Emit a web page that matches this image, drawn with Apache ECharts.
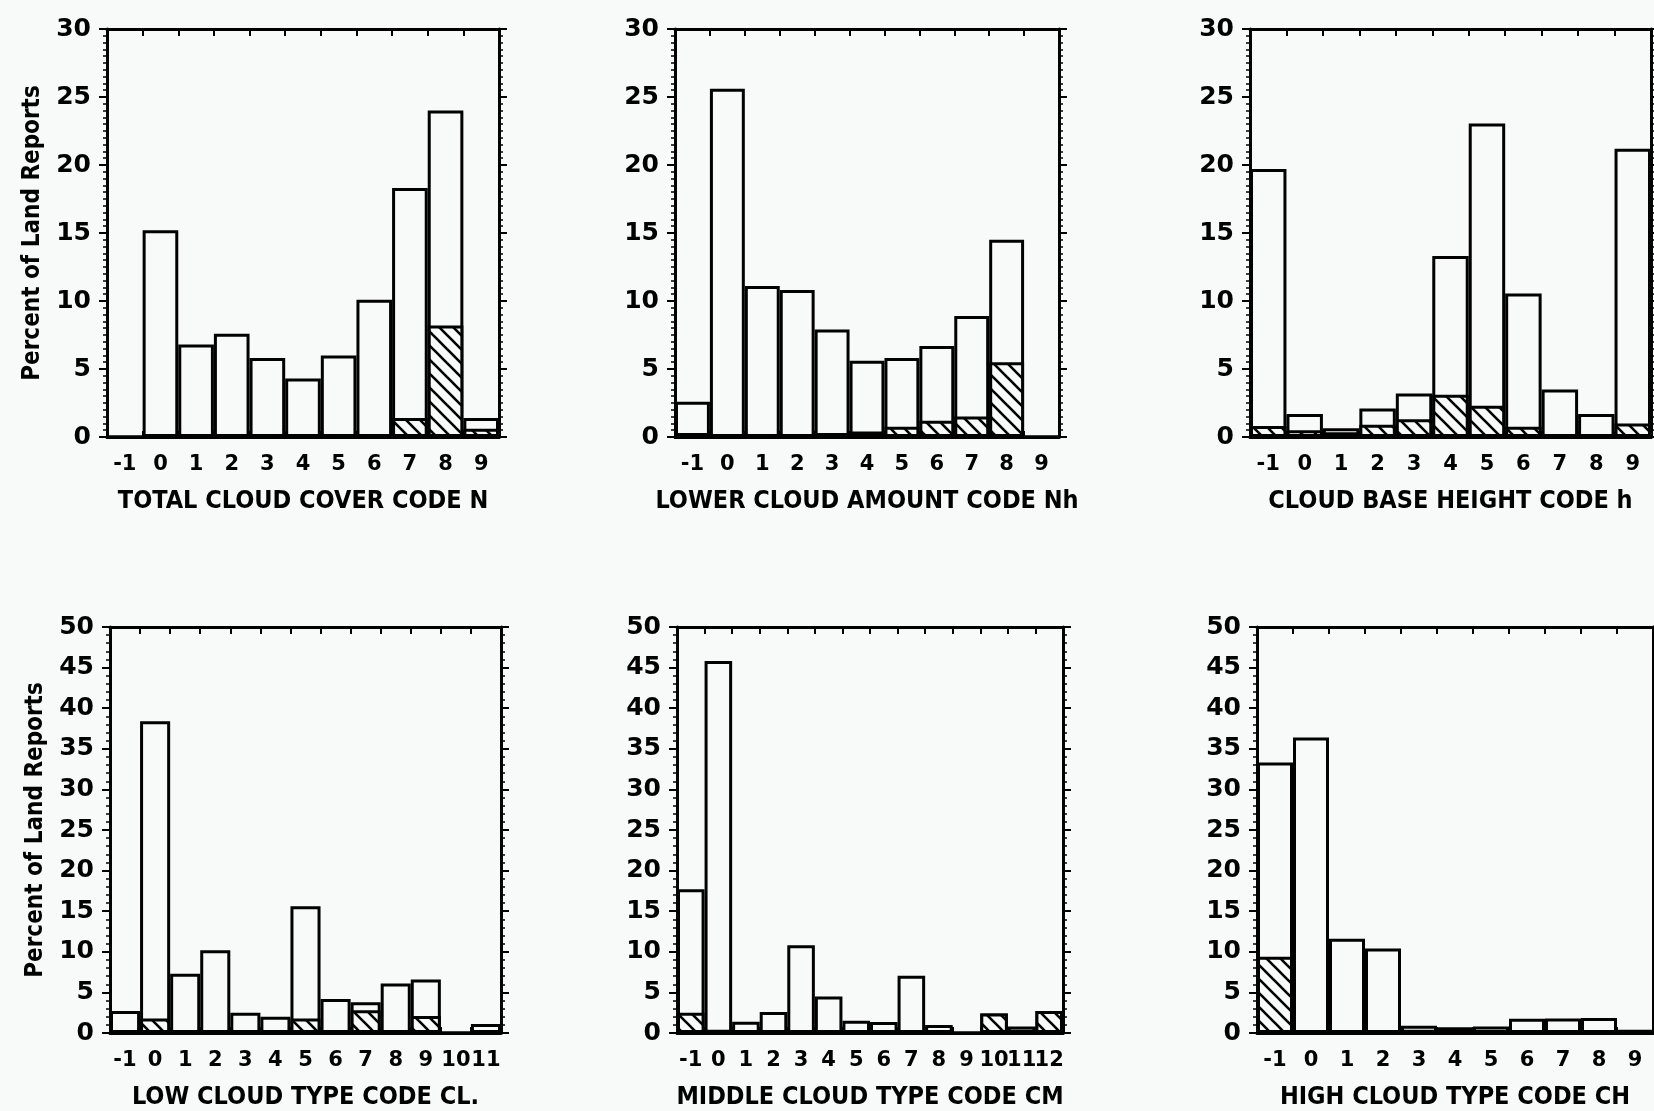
<!DOCTYPE html>
<html>
<head>
<meta charset="utf-8">
<title>Cloud code histograms</title>
<script src="https://cdn.jsdelivr.net/npm/echarts@6/dist/echarts.min.js"></script>
<style>
    html, body { margin: 0; padding: 0; background: #f8f9f9; }
    #chart { width: 1654px; height: 1111px; }
</style>
</head>
<body>
<div id="chart"></div>
<script>
    // categories (code values) for each panel
    var codesN  = ['-1','0','1','2','3','4','5','6','7','8','9'];
    var codesNh = ['-1','0','1','2','3','4','5','6','7','8','9'];
    var codesH  = ['-1','0','1','2','3','4','5','6','7','8','9'];
    var codesCL = ['-1','0','1','2','3','4','5','6','7','8','9','10','11'];
    var codesCM = ['-1','0','1','2','3','4','5','6','7','8','9','10','11','12'];
    var codesCH = ['-1','0','1','2','3','4','5','6','7','8','9'];

    // percent of land reports (white bars = all, hatched = subset)
    var totalN  = [0, 15.2, 6.8, 7.6, 5.8, 4.3, 6.0, 10.1, 18.3, 24.0, 1.4];
    var hatchN  = [0, 0, 0, 0, 0, 0, 0, 0, 1.4, 8.2, 0.6];

    var totalNh = [2.6, 25.6, 11.1, 10.8, 7.9, 5.6, 5.8, 6.7, 8.9, 14.5, 0];
    var hatchNh = [0.3, 0, 0, 0.15, 0.3, 0.4, 0.75, 1.2, 1.5, 5.5, 0];

    var totalH  = [19.7, 1.7, 0.65, 2.1, 3.2, 13.3, 23.05, 10.55, 3.5, 1.7, 21.2];
    var hatchH  = [0.8, 0.5, 0.35, 0.9, 1.3, 3.1, 2.3, 0.75, 0, 0, 1.0];

    var totalCL = [2.7, 38.4, 7.3, 10.2, 2.5, 2.0, 15.6, 4.2, 3.8, 6.1, 6.6, 0, 1.1];
    var hatchCL = [0, 1.8, 0, 0, 0, 0, 1.8, 0, 2.8, 0, 2.1, 0, 0];

    var totalCM = [17.7, 45.8, 1.4, 2.6, 10.8, 4.5, 1.5, 1.35, 7.05, 1.0, 0, 2.4, 0.8, 2.7];
    var hatchCM = [2.5, 0.4, 0, 0, 0, 0, 0, 0, 0, 0, 0, 2.4, 0.4, 2.7];

    var totalCH = [33.3, 36.4, 11.6, 10.4, 0.9, 0.7, 0.8, 1.75, 1.8, 1.85, 0.4];
    var hatchCH = [9.4, 0.3, 0, 0, 0.4, 0, 0.3, 0, 0.2, 0, 0];

    var yTitle = 'Percent of Land Reports';

    var BG = '#f8f9f9';
    var numFont = 'DejaVu Sans';
    var txtFont = '"DejaVu Sans Condensed", "DejaVu Sans", sans-serif';

    // diagonal hatch fill
    function hatchPattern() {
        var s = 14;
        var c = document.createElement('canvas');
        c.width = s; c.height = s;
        var ctx = c.getContext('2d');
        ctx.fillStyle = BG;
        ctx.fillRect(0, 0, s, s);
        ctx.strokeStyle = '#000';
        ctx.lineWidth = 2.6;
        [-s, 0, s].forEach(function (k) {
            ctx.beginPath();
            ctx.moveTo(-2, -2 + k);
            ctx.lineTo(s + 2, s + 2 + k);
            ctx.stroke();
        });
        return { image: c, repeat: 'repeat' };
    }
    var hatchFill = hatchPattern();

    var panels = [
        { cats: codesN,  total: totalN,  hatch: hatchN,  max: 30, name: 'TOTAL CLOUD COVER CODE N',  yname: yTitle, grid: { left: 107,  top: 29,  width: 392, height: 408 } },
        { cats: codesNh, total: totalNh, hatch: hatchNh, max: 30, name: 'LOWER CLOUD AMOUNT CODE Nh', yname: '',     grid: { left: 675,  top: 29,  width: 384, height: 408 } },
        { cats: codesH,  total: totalH,  hatch: hatchH,  max: 30, name: 'CLOUD BASE HEIGHT CODE h',  yname: '',     grid: { left: 1250, top: 29,  width: 401, height: 408 } },
        { cats: codesCL, total: totalCL, hatch: hatchCL, max: 50, name: 'LOW CLOUD TYPE CODE CL.',   yname: yTitle, grid: { left: 110,  top: 627, width: 391, height: 409 } },
        { cats: codesCM, total: totalCM, hatch: hatchCM, max: 50, name: 'MIDDLE CLOUD TYPE CODE CM', yname: '',     grid: { left: 677,  top: 627, width: 386, height: 409 } },
        { cats: codesCH, total: totalCH, hatch: hatchCH, max: 50, name: 'HIGH CLOUD TYPE CODE CH',   yname: '',     grid: { left: 1257, top: 627, width: 396, height: 409 } }
    ];

    var axisLine = { show: true, onZero: false, lineStyle: { color: '#000', width: 3 } };

    var option = {
        backgroundColor: BG,
        animation: false,
        grid: [],
        xAxis: [],
        yAxis: [],
        series: []
    };

    panels.forEach(function (p, i) {
        option.grid.push(p.grid);

        // bottom axis with code labels
        option.xAxis.push({
            type: 'category',
            gridIndex: i,
            position: 'bottom',
            data: p.cats,
            axisLine: axisLine,
            axisTick: { show: true, inside: true, length: 6, lineStyle: { color: '#000', width: 2 } },
            axisLabel: { color: '#000', fontSize: 21, fontWeight: 'bold', fontFamily: numFont, margin: 17, interval: 0 },
            name: p.name,
            nameLocation: 'middle',
            nameGap: 52,
            nameTextStyle: { color: '#000', fontSize: 25, fontWeight: 'bold', fontFamily: txtFont }
        });
        // top frame with ticks
        option.xAxis.push({
            type: 'category',
            gridIndex: i,
            position: 'top',
            data: p.cats,
            axisLine: axisLine,
            axisTick: { show: true, inside: true, length: 7, lineStyle: { color: '#000', width: 2 } },
            axisLabel: { show: false }
        });

        option.yAxis.push({
            type: 'value',
            gridIndex: i,
            position: 'left',
            min: 0,
            max: p.max,
            interval: 5,
            axisLine: axisLine,
            axisTick: { show: true, length: 8, lineStyle: { color: '#000', width: 2 } },
            minorTick: { show: true, splitNumber: p.max === 30 ? 10 : 5, length: 4, lineStyle: { color: '#000', width: 1.5 } },
            splitLine: { show: false },
            axisLabel: { color: '#000', fontSize: 25, fontWeight: 'bold', fontFamily: numFont, margin: 16 },
            name: p.yname,
            nameLocation: 'middle',
            nameRotate: 90,
            nameGap: 62,
            nameTextStyle: { color: '#000', fontSize: 24, fontWeight: 'bold', fontFamily: txtFont }
        });
        option.yAxis.push({
            type: 'value',
            gridIndex: i,
            position: 'right',
            min: 0,
            max: p.max,
            interval: 5,
            axisLine: axisLine,
            axisTick: { show: true, length: 8, lineStyle: { color: '#000', width: 2 } },
            minorTick: { show: true, splitNumber: p.max === 30 ? 10 : 5, length: 4, lineStyle: { color: '#000', width: 1.5 } },
            splitLine: { show: false },
            axisLabel: { show: false }
        });

        option.series.push({
            type: 'bar',
            xAxisIndex: i * 2,
            yAxisIndex: i * 2,
            data: p.total,
            barWidth: '100%',
            barGap: '-100%',
            z: 2,
            silent: true,
            itemStyle: { color: BG, borderColor: '#000', borderWidth: 3 }
        });
        option.series.push({
            type: 'bar',
            xAxisIndex: i * 2,
            yAxisIndex: i * 2,
            data: p.hatch,
            barWidth: '100%',
            barGap: '-100%',
            z: 3,
            silent: true,
            itemStyle: { color: hatchFill, borderColor: '#000', borderWidth: 3 }
        });
    });

    var chart = echarts.init(document.getElementById('chart'), null, { renderer: 'canvas' });
    chart.setOption(option);
</script>
</body>
</html>
